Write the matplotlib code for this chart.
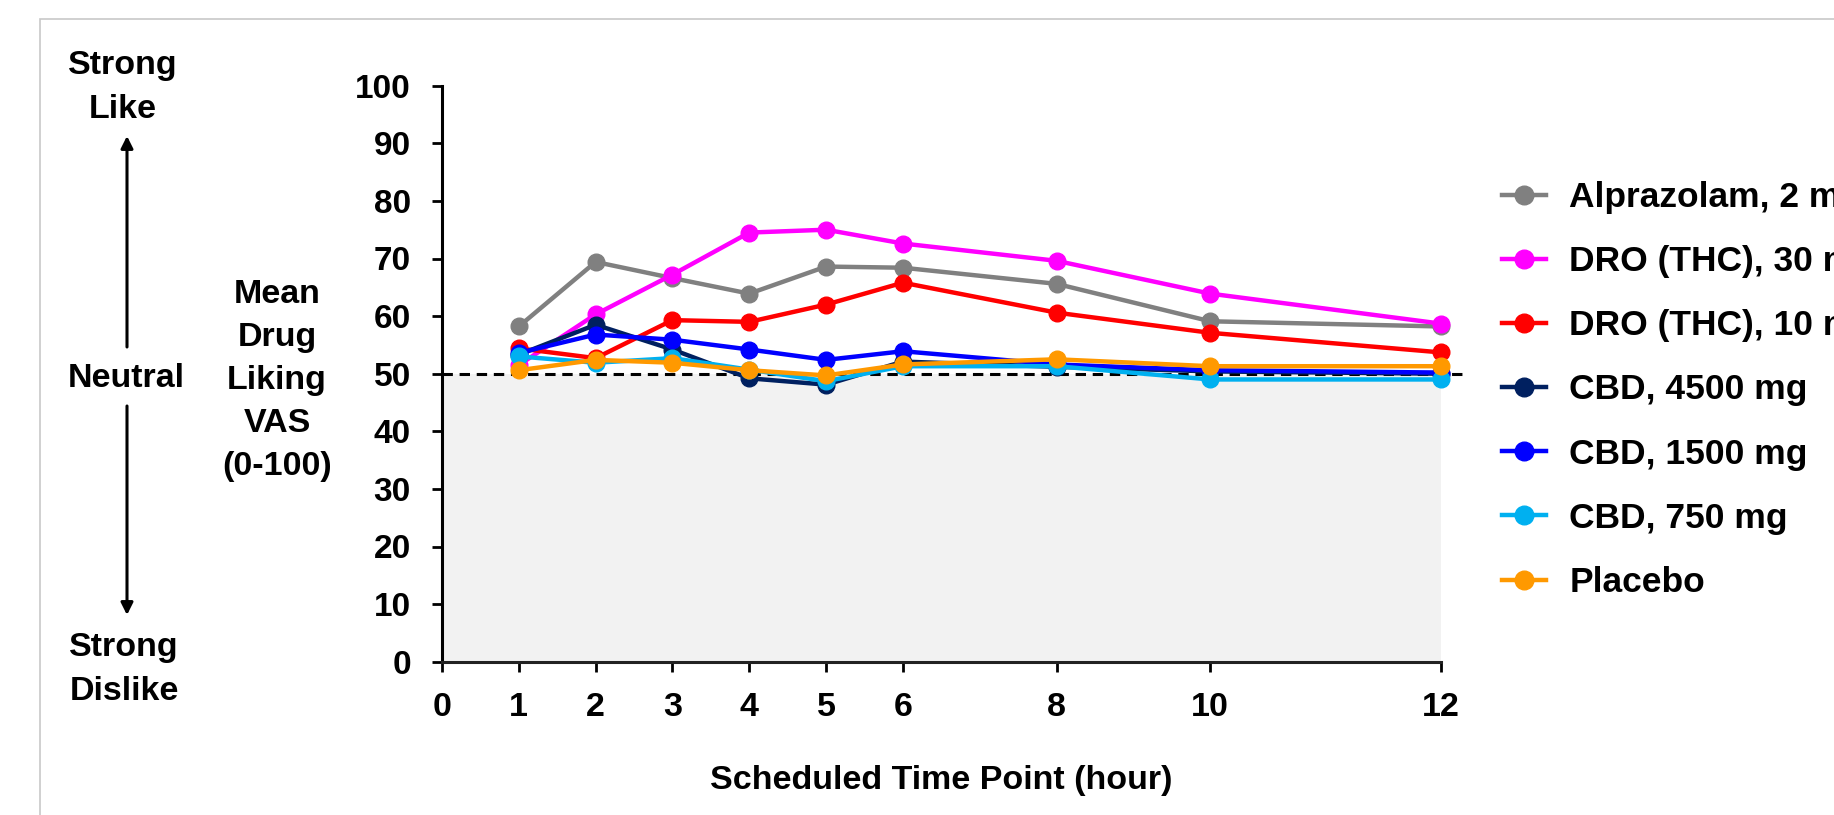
import numpy as np
import matplotlib
matplotlib.use("Agg")
import matplotlib.pyplot as plt
from matplotlib.patches import Rectangle

plt.rcParams['font.family'] = ['Liberation Sans', 'DejaVu Sans']
plt.rcParams['font.weight'] = 'bold'

# ---------------- data ----------------
hours = [1, 2, 3, 4, 5, 6, 8, 10, 12]
xticks = [0, 1, 2, 3, 4, 5, 6, 8, 10, 12]
yticks = [0, 10, 20, 30, 40, 50, 60, 70, 80, 90, 100]

series_names = ["Alprazolam, 2 mg", "DRO (THC), 30 mg", "DRO (THC), 10 mg",
                "CBD, 4500 mg", "CBD, 1500 mg", "CBD, 750 mg", "Placebo"]
alprazolam = [58.2, 69.4, 66.6, 63.9, 68.6, 68.4, 65.6, 59.1, 58.2]
dro30 = [51.5, 60.3, 67.2, 74.5, 75.0, 72.6, 69.6, 63.9, 58.7]
dro10 = [54.4, 52.7, 59.3, 59.0, 62.0, 65.8, 60.6, 57.1, 53.7]
cbd4500 = [53.3, 58.5, 54.2, 49.2, 48.1, 52.1, 51.2, 50.4, 50.0]
cbd1500 = [53.6, 56.8, 55.9, 54.2, 52.4, 53.9, 51.6, 50.6, 50.2]
cbd750 = [53.0, 51.9, 52.7, 50.7, 48.7, 51.3, 51.3, 49.0, 49.0]
placebo = [50.6, 52.4, 51.9, 50.6, 49.7, 51.6, 52.5, 51.3, 51.3]
colors = ["#808080", "#ff00ff", "#ff0000", "#002060", "#0000ff", "#00b0f0", "#ff9900"]
all_series = [alprazolam, dro30, dro10, cbd4500, cbd1500, cbd750, placebo]

neutral = 50

W, H = 1834, 815
fig = plt.figure(figsize=(W / 100, H / 100), dpi=100)

def fx(px):
    return px / W

def fy(py):
    return 1 - py / H

# outer light-gray frame (extends beyond the image on right/bottom)
fig.patches.append(Rectangle((fx(40), -0.2), 2.0, fy(19) + 0.2, fill=False,
                             edgecolor="#c8c8c8", lw=1.2,
                             transform=fig.transFigure, figure=fig))

ax = fig.add_axes([fx(442), fy(661.7), fx(1440.7) - fx(442), fy(85.7) - fy(661.7)])

# non-linear time axis: last interval (10 -> 12 h) drawn 1.5x wider
def fwd(t):
    t = np.asarray(t, dtype=float)
    return np.where(t <= 10, t, 10 + (t - 10) * 1.5)

def inv(p):
    p = np.asarray(p, dtype=float)
    return np.where(p <= 10, p, 10 + (p - 10) / 1.5)

ax.set_xscale('function', functions=(fwd, inv))
ax.set_xlim(0, 12)
ax.set_ylim(0, 100)

# shaded "dislike" region
ax.fill_between([0, 12], 0, neutral, color="#f2f2f2", lw=0, zorder=0.5)
# neutral dashed line
ax.axhline(neutral, xmin=0, xmax=(1465 - 442) / (1440.7 - 442), color="black",
           lw=2.2, ls=(0, (3.4, 2.2)), clip_on=False, zorder=1.5)

for name, vals, c in zip(series_names, all_series, colors):
    ax.plot(hours, vals, color=c, lw=3.2, marker='o', ms=12, mec=c, mfc=c,
            label=name, zorder=3, clip_on=False)

for s in ['top', 'right']:
    ax.spines[s].set_visible(False)
for s in ['left', 'bottom']:
    ax.spines[s].set_linewidth(2.2)
    ax.spines[s].set_color('black')
ax.spines['bottom'].set_color('#222222')

ax.set_xticks(xticks)
ax.set_xticklabels([str(t) for t in xticks])
ax.set_yticks(yticks)
ax.set_yticklabels([str(t) for t in yticks])
ax.xaxis.set_minor_locator(matplotlib.ticker.NullLocator())
ax.tick_params(axis='both', direction='out', length=7.5, width=2.0, color='black')
ax.tick_params(axis='x', labelsize=24.5, pad=14)
ax.tick_params(axis='y', labelsize=24, pad=15)

ax.set_xlabel("Scheduled Time Point (hour)", fontsize=24.5, fontweight='bold')
ax.xaxis.set_label_coords(0.5, -0.180)

# legend (cut off by the right edge like the original)
leg = ax.legend(loc='upper left', bbox_to_anchor=(fx(1502), fy(181)),
                bbox_transform=fig.transFigure, frameon=False, fontsize=25.5,
                handlelength=1.25, handletextpad=0.65, labelspacing=0.88,
                borderpad=0, borderaxespad=0, numpoints=1, markerscale=1.12)
for t in leg.get_texts():
    t.set_fontweight('bold')

# left annotations
txt_kw = dict(fontsize=24.5, fontweight='bold', ha='center', color='black')
fig.text(fx(123), fy(50), "Strong\nLike", va='top', linespacing=1.56, **txt_kw)
fig.text(fx(126), fy(387), "Neutral", va='baseline', **txt_kw)
fig.text(fx(124), fy(632), "Strong\nDislike", va='top', linespacing=1.56, **txt_kw)
fig.text(fx(277), fy(279), "Mean\nDrug\nLiking\nVAS\n(0-100)", va='top',
         linespacing=1.5, **txt_kw)

arrow_kw = dict(arrowstyle='-|>', lw=2.2, color='black', mutation_scale=18,
                shrinkA=0, shrinkB=0)
ax.annotate("", xy=(fx(127), fy(136)), xytext=(fx(127), fy(347)),
            xycoords='figure fraction', textcoords='figure fraction',
            arrowprops=arrow_kw, annotation_clip=False)
ax.annotate("", xy=(fx(127), fy(615)), xytext=(fx(127), fy(406)),
            xycoords='figure fraction', textcoords='figure fraction',
            arrowprops=arrow_kw, annotation_clip=False)

fig.savefig("out.png", dpi=100)
